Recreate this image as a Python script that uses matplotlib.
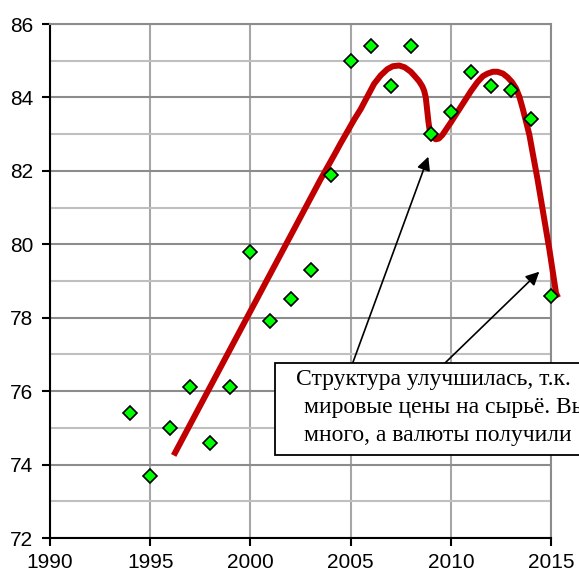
import matplotlib.pyplot as plt
from matplotlib.patches import Rectangle, FancyArrowPatch

# scatter points (year, index)
years = [1994, 1995, 1996, 1997, 1998, 1999, 2000, 2001, 2002, 2003, 2004,
         2005, 2006, 2007, 2008, 2009, 2010, 2011, 2012, 2013, 2014, 2015]
values = [75.4, 73.7, 75.0, 76.1, 74.6, 76.1, 79.8, 77.9, 78.5, 79.3, 81.9,
          85.0, 85.4, 84.3, 85.4, 83.0, 83.6, 84.7, 84.3, 84.2, 83.4, 78.6]

# hand-drawn red trend line
trend_x = [1996.17, 2000.0, 2002.0, 2003.5, 2004.2, 2004.5, 2005.17, 2005.5,
           2005.83, 2006.17, 2006.5, 2006.83, 2007.1, 2007.42, 2007.7, 2008.0,
           2008.2, 2008.42, 2008.58, 2008.67, 2008.75, 2008.8, 2008.88, 2008.95,
           2009.05, 2009.25, 2009.4, 2009.58, 2010.0, 2010.67, 2011.0, 2011.33,
           2011.6, 2011.83, 2012.1, 2012.33, 2012.6, 2012.83, 2013.05, 2013.25,
           2013.42, 2013.58, 2013.75, 2013.92, 2014.08, 2014.33, 2014.5,
           2014.92, 2015.25, 2015.35]
trend_y = [74.25, 78.18, 80.23, 81.77, 82.45, 82.75, 83.39, 83.68,
           84.02, 84.37, 84.6, 84.77, 84.85, 84.87, 84.82, 84.7,
           84.58, 84.44, 84.3, 84.18, 84.0, 83.75, 83.35, 83.08,
           82.93, 82.86, 82.88, 82.98, 83.32, 83.89, 84.17, 84.42,
           84.58, 84.65, 84.7, 84.7, 84.65, 84.55, 84.42, 84.25,
           84.02, 83.71, 83.35, 82.98, 82.5, 81.76, 81.21,
           79.85, 78.67, 78.55]

note_lines = ['Структура улучшилась, т.к.',
              'мировые цены на сырьё. Вы',
              'много, а валюты получили']

plt.rcParams['font.family'] = ['Liberation Sans', 'DejaVu Sans']

fig = plt.figure(figsize=(5.79, 5.72), dpi=100)
ax = fig.add_axes([0.0864, 0.0594, 0.8653, 0.8986])

ax.set_xlim(1990, 2015)
ax.set_ylim(72, 86)
ax.set_xticks(range(1990, 2016, 5))
ax.set_yticks(range(72, 87, 2))
ax.set_yticks(range(73, 86, 2), minor=True)

ax.grid(axis='x', which='major', color='#a6a6a6', lw=1.5)
ax.grid(axis='y', which='major', color='#8c8c8c', lw=1.5)
ax.grid(axis='y', which='minor', color='#bfbfbf', lw=1.5)
ax.set_axisbelow(True)

ax.tick_params(which='major', direction='out', length=6, width=1.5,
               labelsize=15)
ax.tick_params(axis='x', pad=5)
ax.tick_params(axis='y', pad=6)
ax.tick_params(which='minor', length=0)
for s in ['left', 'bottom']:
    ax.spines[s].set_color('black')
    ax.spines[s].set_linewidth(1.5)
for s in ['top', 'right']:
    ax.spines[s].set_color('#8c8c8c')
    ax.spines[s].set_linewidth(1.5)

ax.plot(trend_x, trend_y, color='#c00000', lw=4.3, solid_capstyle='butt',
        solid_joinstyle='round', zorder=3, clip_on=False)
ax.plot(years, values, ls='none', marker='D', ms=7, mfc='#00ff00',
        mec='black', mew=1.2, zorder=4, clip_on=False)

# callout box, partly outside the figure
box = Rectangle((275 / 579, 1 - 455 / 572), 0.6, 92 / 572,
                transform=fig.transFigure, facecolor='white',
                edgecolor='black', lw=1.3, zorder=5)
fig.patches.append(box)
text_x = [296.5, 304, 304]
text_y = [380, 408, 435.5]
for t, tx, ty in zip(note_lines, text_x, text_y):
    fig.text(tx / 579, 1 - ty / 572, t, family='Liberation Serif',
             fontsize=17, va='center', ha='left', zorder=6)

arrow_kw = dict(arrowstyle='-|>', color='black', lw=1.2, mutation_scale=20)
fig.add_artist(FancyArrowPatch(
    (352.7 / 579, 1 - 363 / 572), (428.3 / 579, 1 - 156.7 / 572),
    transform=fig.transFigure, shrinkA=0, shrinkB=0, zorder=4, **arrow_kw))
fig.add_artist(FancyArrowPatch(
    (445 / 579, 1 - 363 / 572), (539.3 / 579, 1 - 271.7 / 572),
    transform=fig.transFigure, shrinkA=0, shrinkB=0, zorder=4, **arrow_kw))

fig.savefig('out.png', dpi=100)
